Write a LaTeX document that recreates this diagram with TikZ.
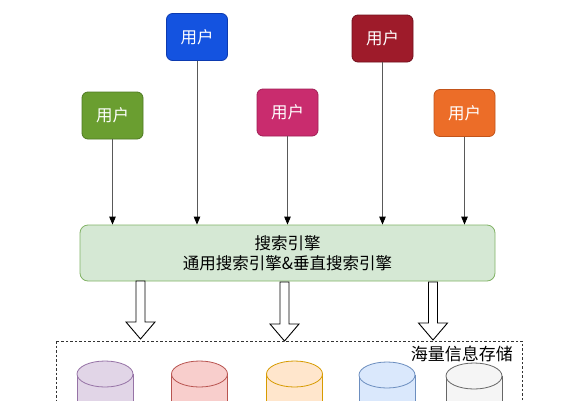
\documentclass[tikz,border=0pt]{standalone}
\usepackage{fontspec}
\newfontfamily\cjk{Noto Sans CJK SC}
\usetikzlibrary{arrows.meta}
\definecolor{ugreen}{HTML}{6A9E30}
\definecolor{ugreenS}{HTML}{4E7A22}
\definecolor{ublue}{HTML}{1453E0}
\definecolor{ublueS}{HTML}{0C3AB0}
\definecolor{umag}{HTML}{C92C6E}
\definecolor{umagS}{HTML}{A01F55}
\definecolor{ured}{HTML}{9E1B2A}
\definecolor{uredS}{HTML}{72101C}
\definecolor{uorange}{HTML}{EC6D28}
\definecolor{uorangeS}{HTML}{C2541A}
\definecolor{engF}{HTML}{D5E8D4}
\definecolor{engS}{HTML}{82B366}
\definecolor{purF}{HTML}{E1D5E7}\definecolor{purS}{HTML}{9673A6}
\definecolor{redF}{HTML}{F8CECC}\definecolor{redS}{HTML}{B85450}
\definecolor{orgF}{HTML}{FFE6CC}\definecolor{orgS}{HTML}{D79B00}
\definecolor{bluF}{HTML}{DAE8FC}\definecolor{bluS}{HTML}{6C8EBF}
\definecolor{gryF}{HTML}{F5F5F5}\definecolor{gryS}{HTML}{666666}
\tikzset{
  userbox/.style={rectangle, rounded corners=6pt, minimum width=61pt, minimum height=47pt,
    inner sep=0pt, text=white, font=\cjk\fontsize{16.5}{19}\selectfont, line width=0.8pt},
  thinarrow/.style={draw=black!65, line width=0.9pt, -{Triangle[length=8pt,width=6.5pt,fill=black,color=black]}},
  blockarrow/.style={draw=black, fill=white, line width=0.9pt, line join=miter},
  db/.style={line width=0.8pt},
}
\newcommand{\cyl}[5]{% cx, top, fill, stroke, name
  \filldraw[db, fill=#3, draw=#4] (#1-28,#2+13) -- (#1-28,420) -- (#1+28,420) -- (#1+28,#2+13);
  \filldraw[db, fill=#3, draw=#4] (#1,#2+13) ellipse [x radius=28, y radius=13];
  \coordinate (#5) at (#1,#2);
}
\newcommand{\blockarr}[3]{% cx, top, tip
  \path[blockarrow] (#1-4.5,#2) -- (#1+4.5,#2) -- (#1+4.5,#3-17) -- (#1+14.5,#3-17) -- (#1,#3)
     -- (#1-14.5,#3-17) -- (#1-4.5,#3-17) -- cycle;
}
\begin{document}
\begin{tikzpicture}[x=1pt,y=-1pt]
\clip (0,0) rectangle (568,400);
\fill[white] (0,0) rectangle (568,400);

% users
\node[userbox, fill=ugreen, draw=ugreenS] (u1) at (112.5,115.5) {用户};
\node[userbox, fill=ublue, draw=ublueS] (u2) at (197,37) {用户};
\node[userbox, fill=umag, draw=umagS] (u3) at (287.5,112.5) {用户};
\node[userbox, fill=ured, draw=uredS] (u4) at (382.5,38.5) {用户};
\node[userbox, fill=uorange, draw=uorangeS] (u5) at (464.5,113) {用户};

% engine
\node[rectangle, rounded corners=8pt, minimum width=415pt, minimum height=56pt, inner sep=0pt,
  fill=engF, draw=engS, line width=0.8pt, align=center,
  font=\cjk\fontsize{16.5}{20.5}\selectfont] (eng) at (287.5,253) {搜索引擎\\通用搜索引擎\&垂直搜索引擎};

\foreach \u in {u1,u2,u3,u4,u5}{
  \draw[thinarrow] (\u.south) -- (\u.south |- eng.north);
}

% storage
\draw[black!80, line width=0.8pt, dash pattern=on 2.5pt off 2pt] (56,341) rectangle (522,430);
\node[anchor=east, inner sep=0pt, font=\cjk\fontsize{17}{19}\selectfont] (lbl) at (513,354) {海量信息存储};

\blockarr{140.5}{281}{339}
\blockarr{284.5}{282}{341}
\blockarr{433}{282}{340}

\cyl{105}{361}{purF}{purS}{c1}
\cyl{199.5}{361}{redF}{redS}{c2}
\cyl{294.5}{361}{orgF}{orgS}{c3}
\cyl{387}{362}{bluF}{bluS}{c4}
\cyl{474}{363}{gryF}{gryS}{c5}
\end{tikzpicture}
\end{document}
